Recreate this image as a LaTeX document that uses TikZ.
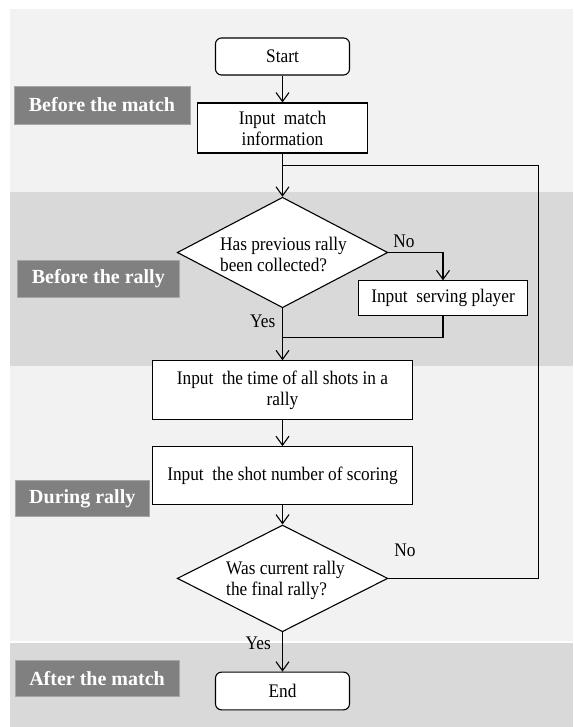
\documentclass[tikz,border=0pt]{standalone}
\usepackage{fontspec}
\setmainfont[FakeStretch=0.9]{Liberation Serif}
\newfontfamily\labelfont{Liberation Serif}
\usetikzlibrary{arrows.meta,shapes.geometric}
\definecolor{bandlight}{HTML}{F2F2F2}
\definecolor{banddark}{HTML}{D9D9D9}
\definecolor{labelgray}{HTML}{808080}
\definecolor{labeledge}{HTML}{A6A6A6}
\begin{document}
\begin{tikzpicture}[x=1pt,y=-1pt,
  txt/.style={font=\fontsize{19.2}{21}\selectfont, inner sep=0pt},
  procbox/.style={txt, draw, fill=white, line width=1.1pt, align=center},
  termbox/.style={procbox, rounded corners=6pt},
  decision/.style={draw, fill=white, diamond, inner sep=0pt, line width=1.1pt},
  phase/.style={fill=labelgray, draw=labeledge, line width=0.6pt, text=white,
    font=\labelfont\bfseries\fontsize{20}{22}\selectfont, inner sep=0pt},
  flow/.style={line width=1.1pt, -{Straight Barb[length=9pt,width=13pt,line width=1.1pt]}},
  plainline/.style={line width=1.1pt}]
\useasboundingbox (0,0) rectangle (573,727);
\fill[white] (0,0) rectangle (573,727);
% bands
\fill[bandlight] (9.5,9) rectangle (573,191.7);
\fill[banddark] (9.5,191.7) rectangle (573,365.7);
\fill[bandlight] (9.5,365.7) rectangle (573,640.5);
\fill[banddark] (9.5,642.5) rectangle (573,727);
% phase labels
\node[phase, minimum width=176pt, minimum height=38pt] (p1) at (102,105) {Before the match};
\node[phase, minimum width=162pt, minimum height=36.6pt] (p2) at (98.3,279) {Before the rally};
\node[phase, minimum width=134.7pt, minimum height=36pt] (p3) at (82.3,498.7) {During rally};
\node[phase, minimum width=164.3pt, minimum height=36.7pt] (p4) at (97,678.3) {After the match};
% flow nodes
\node[termbox, minimum width=134pt, minimum height=37pt] (start) at (282.5,56.5) {Start};
\node[procbox, minimum width=170pt, minimum height=50pt] (info) at (282.5,128) {Input~ match\\information};
\node[decision, minimum width=210.5pt, minimum height=110.5pt] (d1) at (282.5,252.5) {};
\node[txt, align=left] (d1t) at (283.5,254) {Has previous rally\\been collected?};
\node[procbox, minimum width=169.5pt, minimum height=34.3pt] (serve) at (443,298) {Input~ serving player};
\node[procbox, minimum width=259.5pt, minimum height=58.3pt] (b3) at (282.5,390) {Input~ the time of all shots in a\\rally};
\node[procbox, minimum width=259.5pt, minimum height=57.6pt] (b4) at (282.5,475.5) {Input~ the shot number of scoring};
\node[decision, minimum width=210.5pt, minimum height=106.7pt] (d2) at (282.5,578.4) {};
\node[txt, align=left] (d2t) at (285.5,580) {Was current rally\\the final rally?};
\node[termbox, minimum width=134pt, minimum height=37.7pt] (end) at (282.5,691) {End};
% edge labels
\node[txt] (no1) at (404,241.7) {No};
\node[txt] (yes1) at (262.7,321.7) {Yes};
\node[txt] (no2) at (405,550.7) {No};
\node[txt] (yes2) at (258.3,643.3) {Yes};
% helper coordinates
\coordinate (j1) at (282.5,165.7);
\coordinate (rc) at (538.7,165.7);
\coordinate (m1) at (282.5,337.7);
% connectors
\draw[flow] (start) -- (info);
\draw[flow] (info) -- (d1.north);
\draw[flow] (d1.east) -| (serve.north);
\draw[plainline] (serve.south) |- (m1);
\draw[flow] (d1.south) -- (b3.north);
\draw[flow] (b3) -- (b4);
\draw[flow] (b4.south) -- (d2.north);
\draw[flow] (d2.south) -- (end.north);
\draw[plainline] (d2.east) -| (rc) -- (j1);
\end{tikzpicture}
\end{document}
